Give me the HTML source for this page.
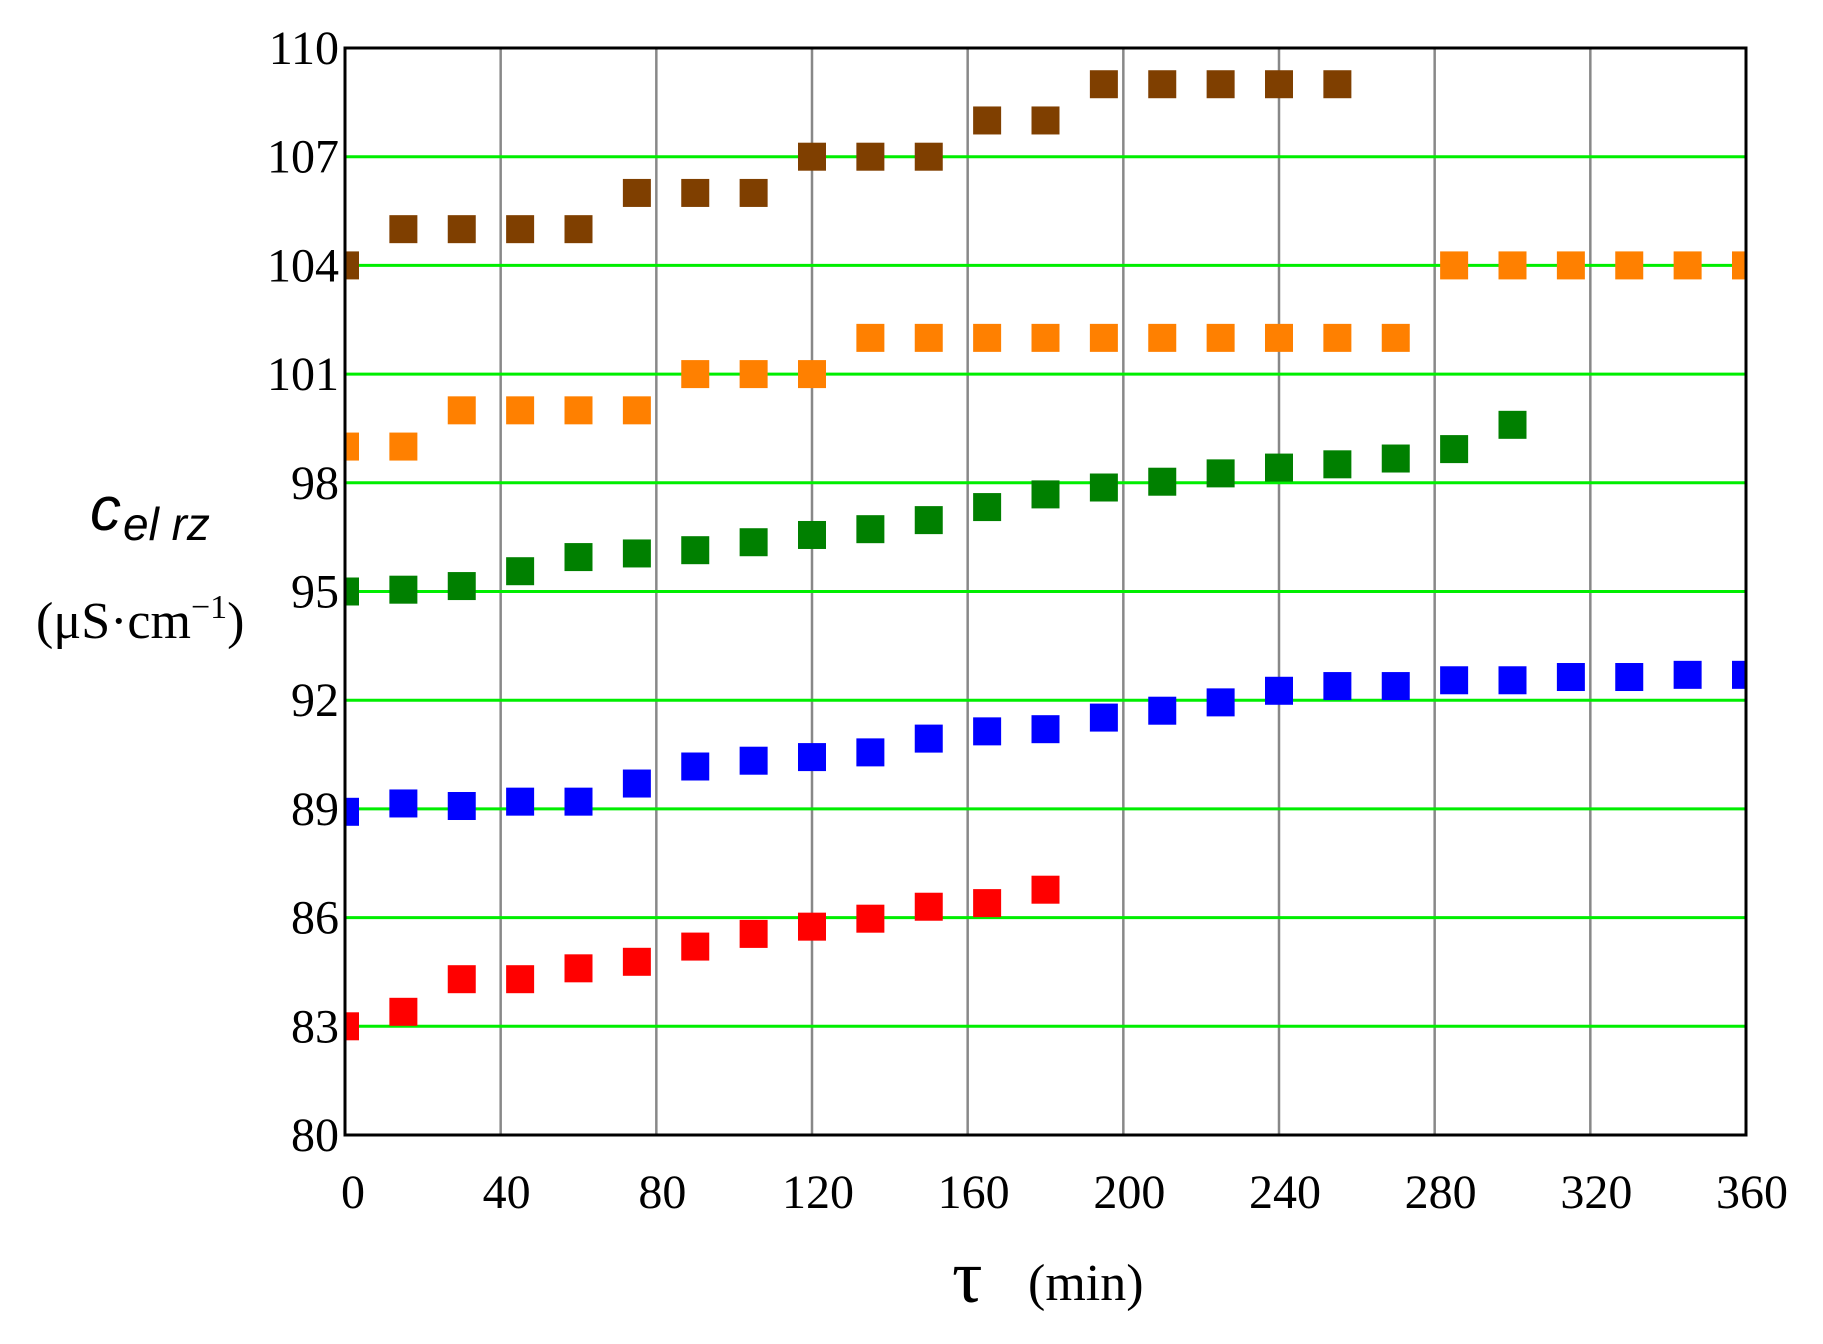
<!DOCTYPE html>
<html><head><meta charset="utf-8"><style>
html,body{margin:0;padding:0;background:#fff}
</style></head><body>
<svg width="1823" height="1339" viewBox="0 0 1823 1339" xmlns="http://www.w3.org/2000/svg">
<defs><clipPath id="c"><rect x="345" y="48" width="1401" height="1087"/></clipPath></defs>
<g id="grid"></g>
<g id="pts" clip-path="url(#c)"></g>
<rect x="345" y="48" width="1401" height="1087" fill="none" stroke="#000" stroke-width="3"/>
<g id="lbl" font-family="Liberation Serif, serif" font-size="48" fill="#000"></g>
<text x="90" y="530" font-family="Liberation Sans, sans-serif" font-style="italic" font-size="62" fill="#000">c<tspan font-size="46" dx="2" dy="10">el rz</tspan></text>
<text x="36" y="638" font-family="Liberation Serif, serif" font-size="52" fill="#000">(μS·cm<tspan font-size="34" dy="-20">−1</tspan><tspan dy="20">)</tspan></text>
<text x="952" y="1302" font-family="Liberation Serif, serif" font-size="76" fill="#000">τ</text>
<text x="1028" y="1300" font-family="Liberation Serif, serif" font-size="52" fill="#000">(min)</text>
</svg>
<script>
const X=v=>345+v/360*1401, Y=v=>1135-(v-80)/30*1087;
const ns="http://www.w3.org/2000/svg";
function el(p,t,a,txt){const e=document.createElementNS(ns,t);for(const k in a)e.setAttribute(k,a[k]);if(txt!==undefined)e.textContent=txt;document.getElementById(p).appendChild(e);}
for(let v=40;v<360;v+=40)el("grid","line",{x1:X(v),x2:X(v),y1:48,y2:1135,stroke:"#888","stroke-width":2.5});
for(let v=83;v<110;v+=3)el("grid","line",{x1:345,x2:1746,y1:Y(v),y2:Y(v),stroke:"#00ee00","stroke-width":3});
for(let v=80;v<=110;v+=3)el("lbl","text",{x:339,y:Y(v)+16,"text-anchor":"end"},v);
for(let v=0;v<=360;v+=40)el("lbl","text",{x:X(v)+(v==0?8:6),y:1208,"text-anchor":"middle"},v);
const S=[
["#7f3f00",[104,105,105,105,105,106,106,106,107,107,107,108,108,109,109,109,109,109]],
["#ff8000",[99,99,100,100,100,100,101,101,101,102,102,102,102,102,102,102,102,102,102,104,104,104,104,104,104]],
["#008000",[95,95.05,95.15,95.56,95.95,96.05,96.14,96.36,96.56,96.72,96.97,97.33,97.68,97.87,98.03,98.26,98.42,98.51,98.67,98.93,99.6]],
["#0000ff",[88.92,89.15,89.08,89.2,89.2,89.7,90.17,90.33,90.43,90.56,90.94,91.14,91.2,91.52,91.71,91.94,92.26,92.39,92.39,92.55,92.55,92.64,92.64,92.7,92.7]],
["#ff0000",[83,83.4,84.3,84.3,84.6,84.78,85.2,85.55,85.75,85.97,86.3,86.4,86.77]]];
for(const [c,d] of S)d.forEach((v,i)=>el("pts","rect",{x:X(i*15)-14,y:Y(v)-14,width:28,height:28,fill:c}));
</script>
</body></html>
